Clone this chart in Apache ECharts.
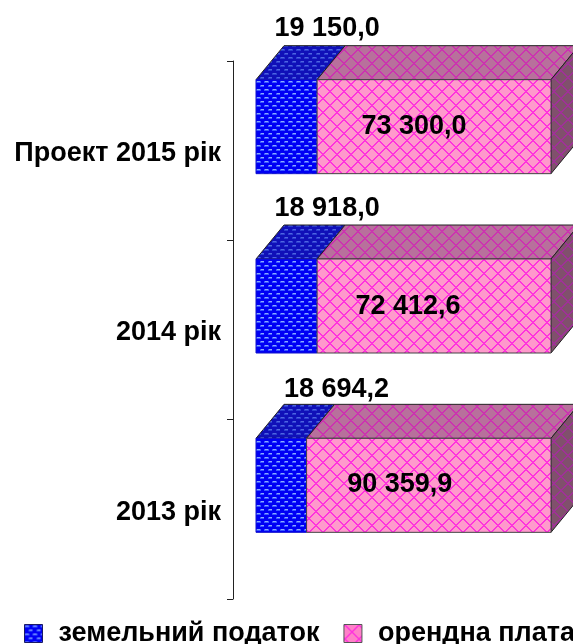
<!DOCTYPE html>
<html><head><meta charset="utf-8">
<style>html,body{margin:0;padding:0;background:#fff}#c{width:573px;height:644px}</style>
<script src="https://cdn.jsdelivr.net/npm/echarts@6/dist/echarts.min.js"></script>
</head><body><div id="c"></div>
<script>
const categories = ['Проект 2015 рік', '2014 рік', '2013 рік'];
const landTax = [19150.0, 18918.0, 18694.2];
const rent = [73300.0, 72412.6, 90359.9];
const seriesNames = ['земельний податок', 'орендна плата'];

function tile(w, h, base, draw) {
  const c = document.createElement('canvas'); c.width = w; c.height = h;
  const g = c.getContext('2d');
  g.fillStyle = base; g.fillRect(0, 0, w, h);
  draw(g);
  return { image: c, repeat: 'repeat' };
}
function cross(base, line) {
  const n = 14;
  return tile(n, n, base, g => {
    g.fillStyle = line;
    for (let i = 0; i < n; i++) {
      [i, (n - i) % n].forEach(x => {
        g.fillRect(x, i, 1, 1);
        g.fillRect((x + 1) % n, i, 1, 1);
      });
    }
  });
}
function bricks(base, soft, hi) {
  return tile(8, 8, base, g => {
    [[0, 1], [4, 5]].forEach(([x, y]) => {
      g.fillStyle = soft;
      g.fillRect(x, y, 5, 2);
      g.fillStyle = hi;
      g.fillRect(x + 1, y, 3, 1);
    });
  });
}
const fills = [
  { front: bricks('#0000f4', '#3a58ff', '#8ca8ff'), top: bricks('#1010b8', '#2c3ed0', '#5064e0'), side: bricks('#101090', '#3040a8', '#4050b0') },
  { front: cross('#ff99cc', '#ff33dd'), top: cross('#b8709c', '#cc33b0'), side: cross('#80506c', '#a03098') }
];
const legendFills = [bricks('#0000f4', '#3a58ff', '#8ca8ff'), cross('#ff80c8', '#ff33dd')];

const fmt = v => {
  const [a, b] = v.toFixed(1).split('.');
  return a.replace(/\B(?=(\d{3})+$)/g, ' ') + ',' + b;
};
const DX = 28, DY = 34, UP = 71, DOWN = 23;
const FONT = '"Liberation Sans", Arial, sans-serif';
// hand-placed data labels of the original, offsets from the natural anchor
const labelDX = [[10, 10, 30], [-20, -26, -29]];
const labelDY = [[-51, -50, -49], [-24, -23, -25]];

function renderer(which) {
  return function (params, api) {
    const i = api.value(0);
    const total = landTax[i] + rent[i];
    const from = which === 0 ? 0 : landTax[i] / total * 100;
    const to = which === 0 ? landTax[i] / total * 100 : 100;
    const p0 = api.coord([from, i]);
    const p1 = api.coord([to, i]);
    const x0 = p0[0], x1 = p1[0], yc = p0[1];
    const t = yc - UP, b = yc + DOWN;
    const f = fills[which];
    const poly = (pts, fill, stroke) => ({
      type: 'polygon', shape: { points: pts },
      style: { fill, stroke, lineWidth: 1 }
    });
    const children = [
      poly([[x0, t], [x0 + DX, t - DY], [x1 + DX, t - DY], [x1, t]], f.top, '#222222')
    ];
    if (which === 1) children.push(poly([[x1, t], [x1 + DX, t - DY], [x1 + DX, b - DY], [x1, b]], f.side, '#222222'));
    children.push(poly([[x0, t], [x1, t], [x1, b], [x0, b]], f.front, which === 0 ? '#1010cc' : '#444444'));
    const v = api.value(1);
    children.push({
      type: 'text',
      z2: 10,
      style: {
        x: (which === 0 ? x1 : (x0 + x1) / 2) + labelDX[which][i],
        y: (which === 0 ? t : yc) + labelDY[which][i],
        text: fmt(v), align: 'center', verticalAlign: 'middle',
        font: 'bold 27px ' + FONT, fill: '#000'
      }
    });
    return { type: 'group', children };
  };
}

const chart = echarts.init(document.getElementById('c'), null, { renderer: 'canvas' });
chart.setOption({
  animation: false,
  backgroundColor: '#fff',
  legend: {
    left: 24, top: 620, width: 900, padding: 0, itemWidth: 18, itemHeight: 18, itemGap: 24, icon: 'rect',
    textStyle: { fontFamily: FONT, fontWeight: 'bold', fontSize: 27, color: '#000', padding: [0, 0, 0, 11] },
    data: [
      { name: seriesNames[0], icon: 'rect', itemStyle: { color: legendFills[0], borderColor: '#1a1a66', borderWidth: 1 } },
      { name: seriesNames[1], icon: 'rect', itemStyle: { color: legendFills[1], borderColor: '#555', borderWidth: 1 } }
    ]
  },
  grid: { left: 233, right: 22, top: 61, bottom: 45, containLabel: false },
  xAxis: { type: 'value', min: -7.8, max: 100, show: false },
  yAxis: {
    type: 'category', inverse: true, data: categories,
    axisLine: { show: true, onZero: false, lineStyle: { color: '#222', width: 1 } },
    axisTick: { show: true, length: 6, alignWithLabel: false, lineStyle: { color: '#222' } },
    axisLabel: {
      margin: 12, color: '#000',
      formatter: v => '{a|' + v + '}',
      rich: { a: { fontFamily: FONT, fontWeight: 'bold', fontSize: 27, color: '#000', padding: [6, 0, 0, 0] } }
    }
  },
  series: [
    { name: seriesNames[0], type: 'custom', renderItem: renderer(0), clip: false, z: 2,
      encode: { x: 1, y: 0 }, data: landTax.map((v, i) => [i, v]),
      itemStyle: { color: legendFills[0] } },
    { name: seriesNames[1], type: 'custom', renderItem: renderer(1), clip: false, z: 3,
      encode: { x: 1, y: 0 }, data: rent.map((v, i) => [i, v]),
      itemStyle: { color: legendFills[1] } }
  ]
});
</script></body></html>
